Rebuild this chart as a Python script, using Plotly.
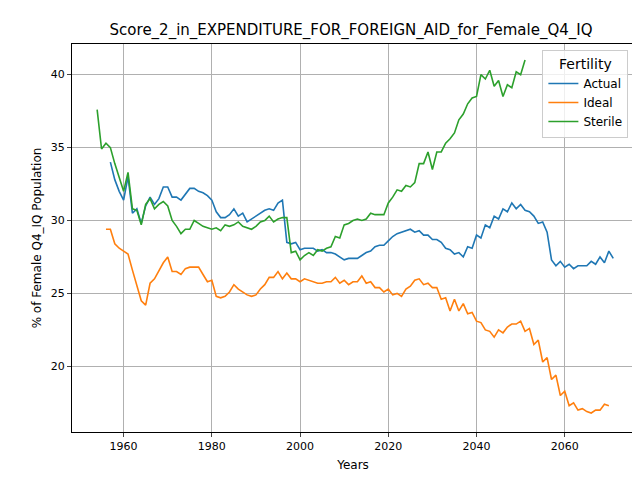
import plotly.graph_objects as go

actual_start = 1957
actual = [34.0, 32.8, 32.0, 31.4, 33.0, 30.5, 30.8, 29.8, 31.0, 31.6, 31.1, 31.5, 32.3, 32.3,
          31.6, 31.6, 31.4, 31.8, 32.2, 32.2, 32.0, 31.9, 31.7, 31.4, 30.6, 30.2, 30.2, 30.4,
          30.8, 30.3, 30.5, 29.9, 30.1, 30.3, 30.5, 30.7, 30.8, 30.7, 31.2, 31.4, 28.5, 28.4,
          28.5, 28.0, 28.1, 28.1, 28.1, 27.9, 28.0, 27.8, 27.8, 27.7, 27.5, 27.3, 27.4, 27.4,
          27.4, 27.6, 27.8, 27.9, 28.2, 28.3, 28.3, 28.6, 28.9, 29.1, 29.2, 29.3, 29.4, 29.2,
          29.3, 29.0, 29.0, 28.7, 28.7, 28.5, 28.1, 28.0, 27.7, 27.8, 27.5, 28.2, 28.1, 29.0,
          28.8, 29.7, 29.5, 30.3, 30.1, 30.8, 30.6, 31.2, 30.8, 31.1, 30.7, 30.6, 30.3, 29.8,
          29.9, 29.2, 27.3, 26.9, 27.2, 26.8, 27.0, 26.7, 26.9, 26.9, 26.9, 27.2, 27.0, 27.5,
          27.1, 27.9, 27.4]

ideal_start = 1956
ideal = [29.4, 29.4, 28.4, 28.1, 27.9, 27.7, 26.6, 25.6, 24.5, 24.2, 25.7, 26.0, 26.6, 27.1,
         27.5, 26.5, 26.5, 26.3, 26.7, 26.8, 26.8, 26.8, 26.3, 25.8, 25.9, 24.8, 24.7, 24.8,
         25.1, 25.6, 25.3, 25.1, 24.9, 24.8, 24.9, 25.3, 25.6, 26.1, 26.1, 26.5, 26.0, 26.4,
         26.0, 26.0, 25.8, 26.0, 25.9, 25.8, 25.7, 25.7, 25.8, 25.8, 26.1, 25.7, 25.9, 25.6,
         25.8, 25.8, 26.2, 25.7, 25.8, 25.4, 25.4, 25.1, 25.3, 24.9, 25.0, 24.8, 25.3, 25.5,
         25.9, 26.0, 25.6, 25.7, 25.4, 25.4, 24.6, 24.7, 23.8, 24.6, 23.8, 24.3, 23.6, 23.7,
         23.1, 23.0, 22.5, 22.4, 22.0, 22.5, 22.3, 22.7, 22.9, 22.9, 23.1, 22.4, 22.6, 21.5,
         21.8, 20.3, 20.6, 19.1, 19.4, 18.0, 18.3, 17.3, 17.5, 17.0, 17.1, 16.9, 16.8, 17.0,
         17.0, 17.4, 17.3]

sterile_start = 1954
sterile = [37.6, 34.9, 35.3, 35.0, 33.9, 32.9, 32.0, 33.3, 30.8, 30.7, 29.7, 31.1, 31.5, 30.8,
           31.1, 31.3, 31.0, 30.0, 29.6, 29.1, 29.4, 29.4, 30.0, 29.8, 29.6, 29.5, 29.4, 29.5,
           29.3, 29.7, 29.6, 29.7, 29.9, 29.6, 29.5, 29.4, 29.6, 29.9, 30.0, 30.3, 29.9, 30.1,
           30.2, 30.2, 27.8, 27.9, 27.3, 27.6, 27.8, 27.6, 28.0, 27.9, 28.1, 28.2, 28.9, 28.8,
           29.7, 29.8, 30.0, 30.1, 30.0, 30.1, 30.5, 30.4, 30.4, 30.4, 31.2, 31.6, 32.1, 32.0,
           32.4, 32.3, 32.6, 33.9, 33.9, 34.7, 33.5, 34.7, 34.7, 35.3, 35.6, 36.0, 36.9, 37.3,
           38.0, 38.4, 38.5, 40.0, 39.7, 40.3, 39.2, 39.6, 38.5, 39.3, 39.1, 40.2, 40.0, 41.0]

series = [("Actual", actual_start, actual, "#1f77b4"),
          ("Ideal", ideal_start, ideal, "#ff7f0e"),
          ("Sterile", sterile_start, sterile, "#2ca02c")]

fig = go.Figure()
for name, start, vals, color in series:
    years = list(range(start, start + len(vals)))
    fig.add_trace(go.Scatter(x=years, y=vals, mode="lines", name=name,
                             line=dict(color=color, width=1.6)))

axis = dict(showgrid=True, gridcolor="#b0b0b0", gridwidth=1, showline=True, mirror=True,
            linecolor="black", linewidth=1, ticks="outside", ticklen=4, zeroline=False,
            automargin=False, tickfont=dict(size=11, color="black"))
fig.update_layout(
    width=640, height=480, paper_bgcolor="white", plot_bgcolor="white",
    font=dict(family="DejaVu Sans", color="black"),
    margin=dict(l=64, r=14, t=36, b=56),
    title=dict(text="Score_2_in_EXPENDITURE_FOR_FOREIGN_AID_for_Female_Q4_IQ",
               x=0.536, xanchor="center", y=0.955, yanchor="middle", font=dict(size=15)),
    xaxis=dict(axis, title=dict(text="Years", font=dict(size=12), standoff=8),
               range=[1948.3, 2075.7], tickvals=[1960, 1980, 2000, 2020, 2040, 2060]),
    yaxis=dict(axis, title=dict(text="% of Female Q4_IQ Population", font=dict(size=12), standoff=6),
               range=[15.5, 42.1], tickvals=[20, 25, 30, 35, 40]),
    legend=dict(title=dict(text="Fertility", side="top center"), x=0.99, y=0.985,
                xanchor="right", yanchor="top", bordercolor="#cccccc", borderwidth=1,
                bgcolor="rgba(255,255,255,0.8)", font=dict(size=12)),
)
fig.write_html("out.html")
